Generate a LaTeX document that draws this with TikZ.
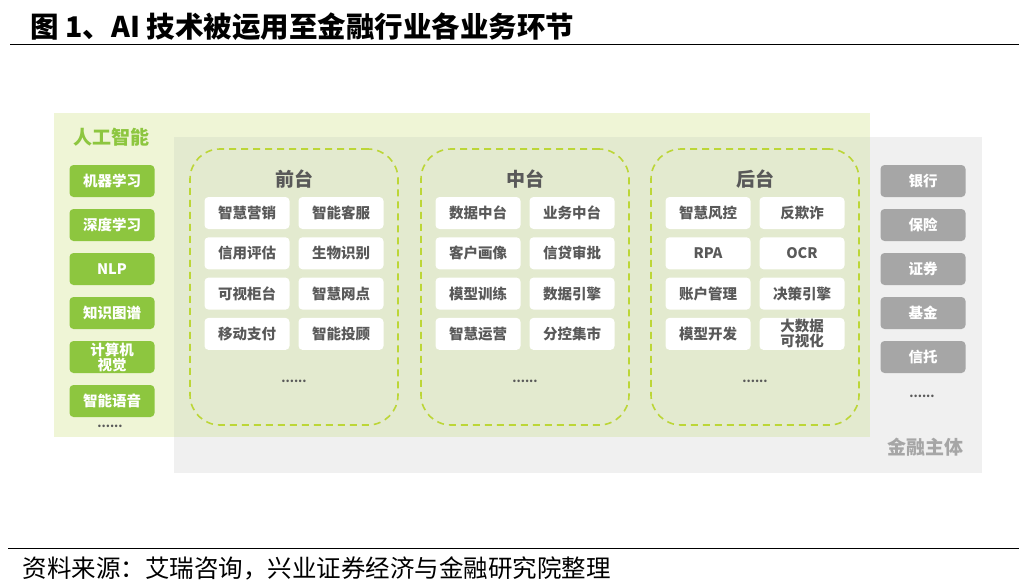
\documentclass[tikz,border=0pt]{standalone}
\usepackage{fontspec}
\setmainfont{Noto Sans CJK SC}
\usetikzlibrary{positioning}
\definecolor{aigreen}{HTML}{8DC63F}
\definecolor{aibg}{HTML}{EFF5D6}
\definecolor{orgbg}{HTML}{F0F0F0}
\definecolor{overlap}{HTML}{E3EACF}
\definecolor{dashgreen}{HTML}{BCD637}
\definecolor{orggray}{HTML}{A6A6A6}
\definecolor{textgray}{HTML}{595959}
\tikzset{
  tagbox/.style={rounded corners=4pt, minimum width=85pt, minimum height=32pt,
    inner sep=0pt, align=center, font=\bfseries\fontsize{14.5}{15}\selectfont},
  aibox/.style={tagbox, fill=aigreen, text=white},
  orgbox/.style={tagbox, fill=orggray, text=white},
  appbox/.style={tagbox, fill=white, text=textgray},
  platform/.style={draw=dashgreen, line width=1.6pt, dash pattern=on 7pt off 5pt,
    rounded corners=30pt, minimum width=208pt, minimum height=276pt},
  dots/.style={text=textgray, font=\bfseries\fontsize{12}{12}\selectfont}
}
\begin{document}
\begin{tikzpicture}[x=1pt,y=-1pt]
  \useasboundingbox (0,0) rectangle (1030,586);
  % title and rules
  \node[anchor=west, font=\bfseries\fontsize{28.5}{29}\selectfont] (title) at (27,27)
    {图 1、AI 技术被运用至金融行业各业务环节};
  \draw[line width=1pt] (10,45) -- (1019,45);
  \draw[line width=1pt] (8,548) -- (1019,548);
  \node[anchor=west, font=\fontsize{24.5}{25}\selectfont] (source) at (19,568)
    {资料来源：艾瑞咨询，兴业证券经济与金融研究院整理};

  % backgrounds
  \fill[orgbg] (174,137) rectangle (982,473);
  \fill[aibg] (54,113) rectangle (870,437);
  \fill[overlap] (174,137) rectangle (870,437);

  % AI techniques
  \node[text=aigreen, font=\bfseries\fontsize{19}{20}\selectfont] (ai) at (111,137) {人工智能};
  \foreach \t [count=\i] in {机器学习, 深度学习, NLP, 知识图谱, {计算机\\视觉}, 智能语音}
    \node[aibox] (ai\i) at (112,137+44*\i) {\t};
  \node[dots] (aidots) at (110,426) {......};

  % platforms
  \foreach \cx/\nm/\ttl/\items in {
      294/front/前台/{智慧营销,智能客服,信用评估,生物识别,可视柜台,智慧网点,移动支付,智能投顾},
      525/mid/中台/{数据中台,业务中台,客户画像,信贷审批,模型训练,数据引擎,智慧运营,分控集市},
      755/back/后台/{智慧风控,反欺诈,RPA,OCR,账户管理,决策引擎,模型开发,{大数据\\可视化}}} {
    \node[platform] (\nm) at (\cx,287) {};
    \node[text=textgray, font=\bfseries\fontsize{19}{20}\selectfont] (\nm t) at (\cx,179) {\ttl};
    \foreach \it [count=\i] in \items {
      \pgfmathtruncatemacro\row{(\i-1)/2}
      \pgfmathtruncatemacro\col{mod(\i-1,2)}
      \node[appbox] (\nm\i) at (\cx-47+94*\col,213+40.3*\row) {\it};
    }
    \node[dots] (\nm d) at (\cx,381) {......};
  }

  % financial institutions
  \foreach \t [count=\i] in {银行, 保险, 证券, 基金, 信托}
    \node[orgbox] (org\i) at (923,137+44*\i) {\t};
  \node[dots] (orgdots) at (922,396) {......};
  \node[text=orggray, font=\bfseries\fontsize{19}{20}\selectfont] (org) at (925,447) {金融主体};
\end{tikzpicture}
\end{document}
